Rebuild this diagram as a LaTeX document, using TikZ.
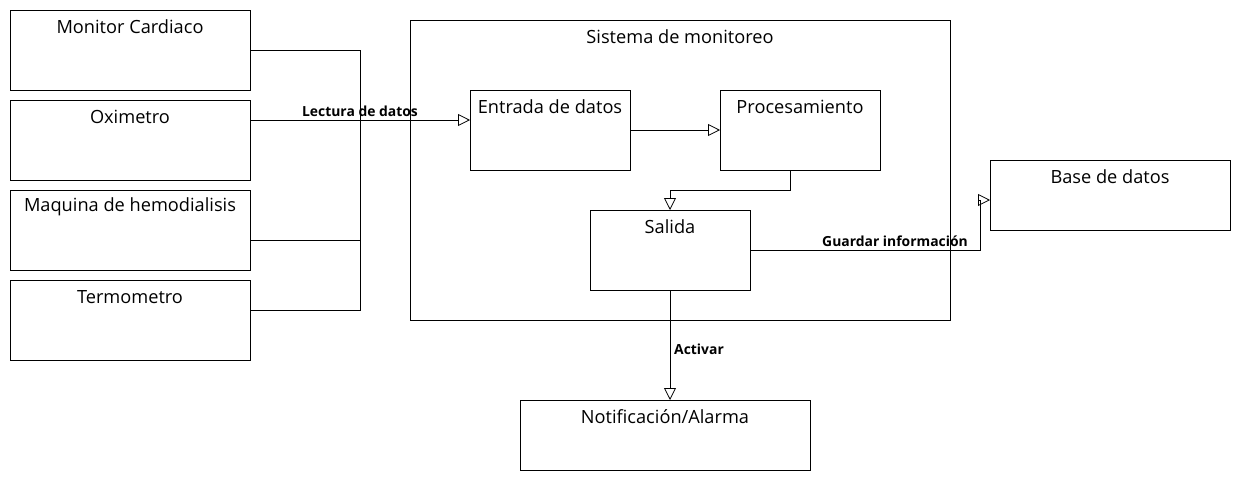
\documentclass[tikz,border=0pt]{standalone}
\usepackage{fontspec}
\setmainfont{Open Sans}
\usetikzlibrary{arrows.meta}
\begin{document}
\begin{tikzpicture}[x=1pt,y=-1pt,
  box/.style={draw,line width=0.8pt},
  ttl/.style={font=\fontsize{18.2}{20}\selectfont,anchor=center,inner sep=0pt},
  lbl/.style={font=\bfseries\fontsize{13.9}{16}\selectfont,inner sep=0pt},
  con/.style={line width=0.8pt},
  arr/.style={line width=0.8pt,-{Triangle[open,length=12pt,width=12pt]}}]
\useasboundingbox (0,0) rectangle (1240,480);
% boxes
\draw[box] (10,10) rectangle (250,90);
\node[ttl] (monT) at (130,27) {Monitor Cardiaco};
\coordinate (mon) at (250,50);
\draw[box] (10,100) rectangle (250,180);
\node[ttl] (oxiT) at (130,117) {Oximetro};
\coordinate (oxi) at (250,120);
\draw[box] (10,190) rectangle (250,270);
\node[ttl] (maqT) at (130,207) {Maquina de hemodialisis};
\coordinate (maq) at (250,240);
\draw[box] (10,280) rectangle (250,360);
\node[ttl] (terT) at (130,297) {Termometro};
\coordinate (ter) at (250,310);
\draw[box] (410,20) rectangle (950,320);
\node[ttl] (sisT) at (680,37) {Sistema de monitoreo};
\draw[box] (470,90) rectangle (630,170);
\node[ttl] (entT) at (550,107) {Entrada de datos};
\draw[box] (720,90) rectangle (880,170);
\node[ttl] (proT) at (800,107) {Procesamiento};
\draw[box] (590,210) rectangle (750,290);
\node[ttl] (salT) at (670,227) {Salida};
\draw[box] (990,160) rectangle (1230,230);
\node[ttl] (basT) at (1110,177) {Base de datos};
\draw[box] (520,400) rectangle (810,470);
\node[ttl] (notT) at (665,417) {Notificación/Alarma};
% anchor coordinates
\coordinate (entW) at (470,120);
\coordinate (entE) at (630,130);
\coordinate (proW) at (720,130);
\coordinate (proS) at (790,170);
\coordinate (salN) at (670,210);
\coordinate (salE) at (750,250);
\coordinate (salS) at (670,290);
\coordinate (basW) at (990,200);
\coordinate (notN) at (670,400);
% connectors
\draw[con] (mon) -- (360,50) -- (360,120);
\draw[con] (maq) -- (360,240) -- (360,120);
\draw[con] (ter) -- (360,310) -- (360,120);
\draw[arr] (oxi) -- (entW);
\node[lbl] (l1) at (360,111) {Lectura de datos};
\draw[arr] (entE) -- (proW);
\draw[arr] (proS) -- (790,190) -- (670,190) -- (salN);
\draw[arr] (salE) -- (980,250) -- (980,200) -- (basW);
\node[lbl] (l2) at (895,241) {Guardar información};
\draw[arr] (salS) -- (notN);
\node[lbl,anchor=west] (l3) at (674,349) {Activar};
\end{tikzpicture}
\end{document}
